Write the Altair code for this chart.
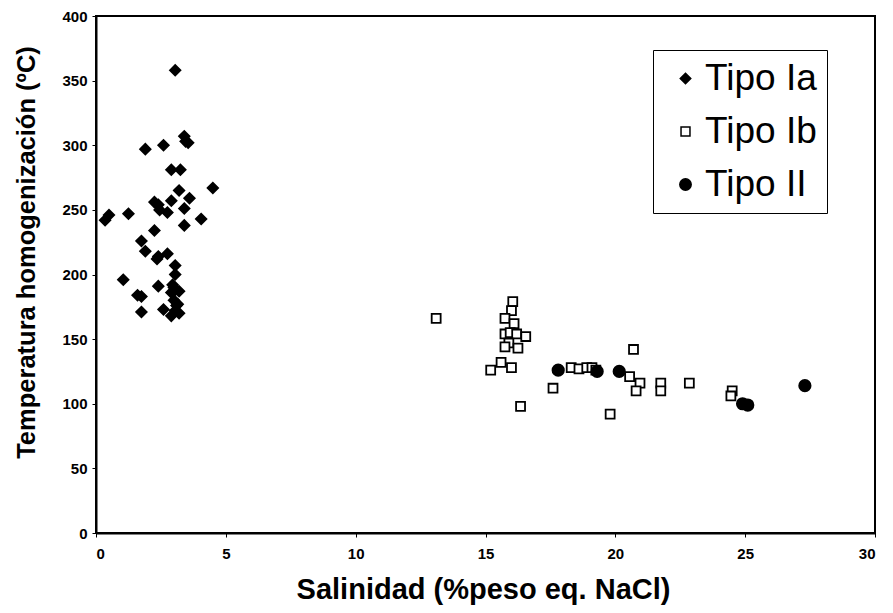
import altair as alt
import pandas as pd

TYPES = ["Tipo Ia", "Tipo Ib", "Tipo II"]

ia_sal = [3.05, 1.9, 2.6, 3.4, 3.45, 3.55, 2.9, 3.25, 4.5, 3.2, 2.9, 3.6, 2.25, 2.4, 2.45,
          2.75, 3.4, 4.05, 3.4, 1.25, 0.35, 0.5, 2.25, 1.75, 1.9, 2.4, 2.35, 2.75, 3.05, 3.05,
          1.05, 2.4, 2.95, 3.05, 3.2, 3.0, 2.9, 1.6, 1.75, 1.75, 2.6, 3.0, 3.1, 2.9, 3.2, 3.05, 3.15]
ia_temp = [358, 297, 300, 307, 303, 302, 281, 281, 267, 265, 257, 259, 256, 254, 250,
           248, 251, 243, 238, 247, 242, 246, 234, 226, 218, 214, 212, 216, 207, 200,
           196, 191, 192, 188, 187, 190, 186, 184, 183, 171, 173, 180, 176, 168, 170, 172, 177]

ib_sal = [13.1, 16.05, 16.0, 15.75, 16.1, 15.75, 15.95, 16.2, 16.55, 15.9, 15.75, 16.25, 15.6,
          15.2, 16.0, 16.35, 17.6, 18.3, 18.6, 18.9, 19.1, 19.25, 20.7, 20.55, 20.95, 20.8,
          21.75, 21.75, 22.85, 19.8, 24.5, 24.45]
ib_temp = [166, 179, 172, 166, 162, 154, 155, 154, 152, 147, 144, 143, 132,
           126, 128, 98, 112, 128, 127, 128, 128, 126, 142, 121, 116, 110,
           116, 110, 116, 92, 110, 106]

ii_sal = [17.8, 19.3, 20.15, 24.9, 25.1, 27.3]
ii_temp = [126, 125, 125, 100, 99, 114]

rows = []
for t, xs, ys in [("Tipo Ia", ia_sal, ia_temp), ("Tipo Ib", ib_sal, ib_temp), ("Tipo II", ii_sal, ii_temp)]:
    for a, b in zip(xs, ys):
        rows.append({"sal": a, "temp": b, "tipo": t})
df = pd.DataFrame(rows)

FONT = "Liberation Sans"

def make_legend():
    return alt.Legend(
        title=None, orient="none", legendX=557, legendY=34,
        strokeColor="black", fillColor="white", padding=10,
        labelFont=FONT, labelFontSize=37, labelColor="black",
        rowPadding=15, symbolOffset=4, labelOffset=1,
        symbolStrokeWidth=1.5,
    )

chart = alt.Chart(df).mark_point(
    strokeWidth=1.8, opacity=1, fillOpacity=1
).encode(
    x=alt.X("sal:Q", scale=alt.Scale(domain=[0, 30], nice=False),
            axis=alt.Axis(values=[0, 5, 10, 15, 20, 25, 30], title="Salinidad (%peso eq. NaCl)",
                          titleX=387, titleY=65, titleBaseline="alphabetic", titleFontSize=29,
                          labelPadding=9)),
    y=alt.Y("temp:Q", scale=alt.Scale(domain=[0, 400], nice=False),
            axis=alt.Axis(values=list(range(0, 401, 50)), title="Temperatura homogenización (ºC)",
                          titleX=-70, titleY=236, titleAlign="center", titleBaseline="middle",
                          titleAngle=-90, titleFontSize=25.5, labelPadding=5)),
    shape=alt.Shape("tipo:N", scale=alt.Scale(domain=TYPES, range=["diamond", "square", "circle"]),
                    legend=make_legend()),
    fill=alt.Fill("tipo:N", scale=alt.Scale(domain=TYPES, range=["black", "white", "black"]),
                  legend=make_legend()),
    stroke=alt.Stroke("tipo:N", scale=alt.Scale(domain=TYPES, range=["black", "black", "black"]),
                      legend=make_legend()),
    size=alt.Size("tipo:N", scale=alt.Scale(type="ordinal", domain=TYPES, range=[110, 80, 130]),
                  legend=make_legend()),
).properties(
    width=779, height=517,
    padding={"left": 88, "top": 8, "right": 10, "bottom": 72},
    autosize=alt.AutoSizeParams(type="none"),
).configure_view(
    stroke="black", strokeWidth=2
).configure_axis(
    grid=False, domainColor="black", domainWidth=2, tickColor="black", tickSize=4,
    labelFont=FONT, labelFontSize=15, labelFontWeight="bold", labelColor="black",
    titleFont=FONT, titleFontWeight="bold", titleColor="black",
)

chart.save("out.html", embed_options={"renderer": "svg", "actions": False})
